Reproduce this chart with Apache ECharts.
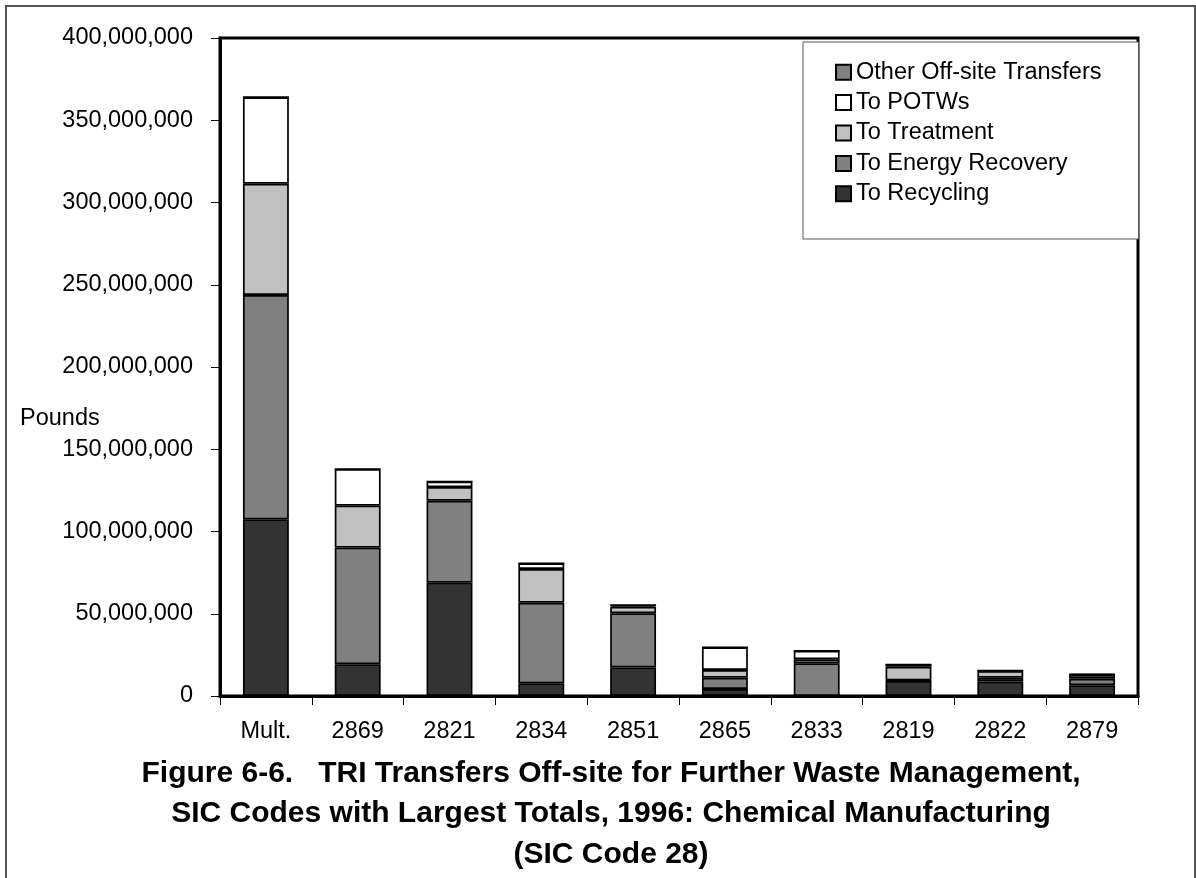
<!DOCTYPE html>
<html>
<head>
<meta charset="utf-8">
<style>
  html, body { margin: 0; padding: 0; background: #fff; }
  #chart { width: 1196px; height: 878px; }
</style>
<script src="https://cdn.jsdelivr.net/npm/echarts@6/dist/echarts.min.js"></script>
</head>
<body>
<div id="chart"></div>
<script>
// SIC codes (x categories)
const categories = ['Mult.', '2869', '2821', '2834', '2851', '2865', '2833', '2819', '2822', '2879'];

// Transfers off-site, millions of pounds, per SIC code
const toRecycling      = [107.4, 19.3, 68.9,  7.7, 17.4,  4.3,  0.0, 9.1, 8.8, 6.5];
const toEnergyRecovery = [136.4, 70.9, 49.8, 49.0, 32.9,  6.8, 19.9, 0.3, 2.3, 4.0];
const toTreatment      = [ 67.6, 25.5,  8.3, 20.5,  4.0,  4.7,  2.4, 8.4, 4.0, 2.3];
const toPOTWs          = [ 52.6, 22.3,  3.3,  3.5,  1.0, 13.8,  5.2, 1.3, 0.3, 0.4];
const otherTransfers   = [  0.0,  0.0,  0.0,  0.0,  0.0,  0.0,  0.0, 0.0, 0.0, 0.0];

// Value axis ticks, pounds
const yTicks = [0, 50000000, 100000000, 150000000, 200000000, 250000000, 300000000, 350000000, 400000000];

const FONT = 'Arial, "Liberation Sans", sans-serif';
const MILLION = 1000000;
const LABEL_SIZE = 23.5;

const stackDefs = [
  { name: 'To Recycling',             data: toRecycling,      color: '#333333' },
  { name: 'To Energy Recovery',       data: toEnergyRecovery, color: '#808080' },
  { name: 'To Treatment',             data: toTreatment,      color: '#c0c0c0' },
  { name: 'To POTWs',                 data: toPOTWs,          color: '#ffffff' },
  { name: 'Other Off-site Transfers', data: otherTransfers,   color: '#808080' }
];

const series = stackDefs.map(d => ({
  name: d.name,
  type: 'bar',
  stack: 'total',
  barWidth: '50%',
  data: d.data.map(v => v * MILLION),
  itemStyle: { color: d.color, borderColor: '#000', borderWidth: 1.7 },
  emphasis: { disabled: true }
}));

const chart = echarts.init(document.getElementById('chart'), null, { renderer: 'canvas' });

chart.setOption({
  animation: false,
  backgroundColor: '#fff',
  textStyle: { fontFamily: FONT },
  title: [
    {
      text: 'Pounds',
      left: 15, top: 402,
      textStyle: { fontFamily: FONT, fontSize: LABEL_SIZE, fontWeight: 'normal', color: '#000' }
    },
    {
      text: 'Figure 6-6.   TRI Transfers Off-site for Further Waste Management,\nSIC Codes with Largest Totals, 1996: Chemical Manufacturing\n(SIC Code 28)',
      left: 606, top: 748,
      textAlign: 'center',
      textStyle: { fontFamily: FONT, fontSize: 30, fontWeight: 'bold', color: '#000', lineHeight: 40.5 }
    }
  ],
  legend: {
    orient: 'vertical',
    left: 803, top: 42,
    padding: [15, 37, 30, 32],
    itemGap: 0,
    itemWidth: 15, itemHeight: 15,
    icon: 'rect',
    backgroundColor: '#fff',
    borderColor: '#555',
    borderWidth: 1,
    data: ['Other Off-site Transfers', 'To POTWs', 'To Treatment', 'To Energy Recovery', 'To Recycling'],
    textStyle: { fontFamily: FONT, fontSize: LABEL_SIZE, color: '#000', lineHeight: 30.4 },
    z: 10
  },
  grid: {
    left: 220, right: 58, top: 38, bottom: 182,
    show: true, borderColor: '#000', borderWidth: 3, backgroundColor: 'transparent'
  },
  xAxis: {
    type: 'category',
    data: categories,
    boundaryGap: true,
    axisLine: { lineStyle: { color: '#000', width: 3 } },
    axisTick: { show: true, length: 9, lineStyle: { color: '#000', width: 1 } },
    axisLabel: { fontFamily: FONT, fontSize: LABEL_SIZE, color: '#000', margin: 24 },
    splitLine: { show: false }
  },
  yAxis: {
    type: 'value',
    min: yTicks[0],
    max: yTicks[yTicks.length - 1],
    interval: yTicks[1] - yTicks[0],
    axisLine: { show: true, lineStyle: { color: '#000', width: 3 } },
    axisTick: { show: true, length: 9, lineStyle: { color: '#000', width: 1 } },
    axisLabel: {
      fontFamily: FONT, fontSize: LABEL_SIZE, color: '#000', margin: 27,
      formatter: v => v.toLocaleString('en-US')
    },
    splitLine: { show: false }
  },
  graphic: [
    {
      type: 'rect',
      shape: { x: 6, y: 6, width: 1189, height: 900 },
      style: { fill: 'none', stroke: '#555', lineWidth: 2 },
      silent: true
    }
  ],
  series: series
});
</script>
</body>
</html>
